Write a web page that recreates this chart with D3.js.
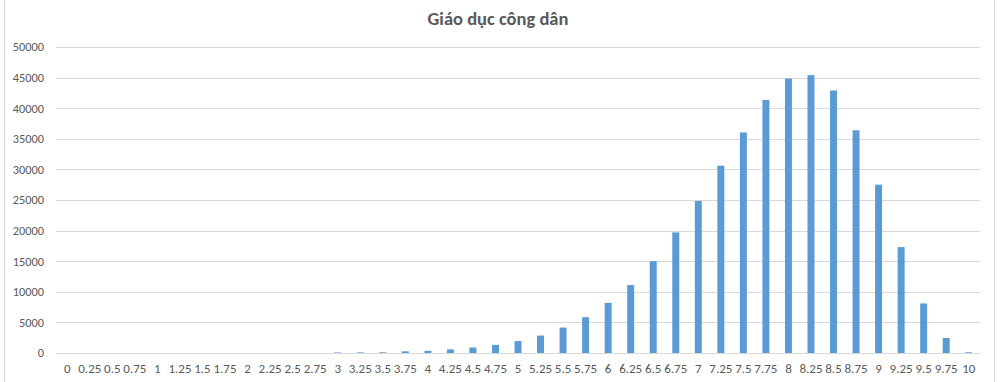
<!DOCTYPE html>
<html>
<head>
<meta charset="utf-8">
<script src="https://cdn.jsdelivr.net/npm/d3@7"></script>
<style>
  body { margin: 0; background: #fff; }
  svg { display: block; font-family: Calibri, Carlito, "Open Sans", sans-serif; }
</style>
</head>
<body>
<svg id="chart" width="1000" height="382"></svg>
<script>
// score buckets (0 .. 10, step 0.25)
var scores = ["0","0.25","0.5","0.75","1","1.25","1.5","1.75","2","2.25","2.5","2.75",
              "3","3.25","3.5","3.75","4","4.25","4.5","4.75","5","5.25","5.5","5.75",
              "6","6.25","6.5","6.75","7","7.25","7.5","7.75","8","8.25","8.5","8.75",
              "9","9.25","9.5","9.75","10"];
// number of students per bucket
var counts = [0,0,0,0,0,0,0,0,0,0,0,0,
              90,100,120,280,360,600,900,1330,1950,2850,
              4150,5850,8200,11100,15000,19700,24850,30600,36050,41350,
              44850,45400,42900,36400,27500,17300,8100,2450,120];
var yTicks = [0,5000,10000,15000,20000,25000,30000,35000,40000,45000,50000];
var title = "Giáo dục công dân";

function draw_chart(){
    var svg = d3.select("#chart");
    var margin = {top: 47, right: 20, bottom: 29, left: 56},
        width = 980 - margin.left,
        height = 353 - margin.top;

    svg.selectAll("*").remove();

    // chart area border (left / right lines like the excel frame)
    svg.append("rect")
      .attr("x", 4.5).attr("y", -2)
      .attr("width", 990).attr("height", 390)
      .attr("fill", "none")
      .attr("stroke", "#d9d9d9");

    svg.append("text")
      .attr("x", 498).attr("y", 25)
      .attr("text-anchor", "middle")
      .attr("font-size", "18.5px")
      .attr("font-weight", "bold")
      .attr("fill", "#595959")
      .text(title);

    var g = svg.append("g")
        .attr("transform", "translate(" + margin.left + "," + margin.top + ")");

    var x = d3.scaleBand()
      .domain(scores)
      .range([0, width])
      .paddingInner(0.69)
      .paddingOuter(0.345);

    var y = d3.scaleLinear()
      .domain([0, 50000])
      .range([height, 0]);

    // gridlines
    g.append("g")
      .selectAll("line")
      .data(yTicks)
      .join("line")
        .attr("x1", 0).attr("x2", width)
        .attr("y1", function(d){ return Math.round(y(d)) + 0.5; })
        .attr("y2", function(d){ return Math.round(y(d)) + 0.5; })
        .attr("stroke", "#d9d9d9")
        .attr("stroke-width", 1);

    // y axis
    var y_axis = g.append("g")
      .call(d3.axisLeft(y).tickValues(yTicks).tickSize(0).tickPadding(12).tickFormat(d3.format("d")));
    y_axis.select(".domain").remove();
    y_axis.selectAll("text")
      .attr("font-size", "12.3px")
      .attr("fill", "#595959")
      .attr("font-family", "Calibri, Carlito, 'Open Sans', sans-serif");

    // bars
    g.append("g")
      .selectAll("rect")
      .data(scores)
      .join("rect")
        .attr("x", function(d){ return x(d); })
        .attr("width", x.bandwidth())
        .attr("y", function(d, i){ return y(counts[i]); })
        .attr("height", function(d, i){ return height - y(counts[i]); })
        .attr("fill", "#5b9bd5");

    // x axis
    var x_axis = g.append("g")
      .attr("transform", "translate(0," + height + ")")
      .call(d3.axisBottom(x).tickSize(0).tickPadding(11));
    x_axis.select(".domain").remove();
    x_axis.selectAll("text")
      .attr("font-size", "13px")
      .attr("fill", "#595959")
      .attr("font-family", "Calibri, Carlito, 'Open Sans', sans-serif");
}

draw_chart()
</script>
</body>
</html>
